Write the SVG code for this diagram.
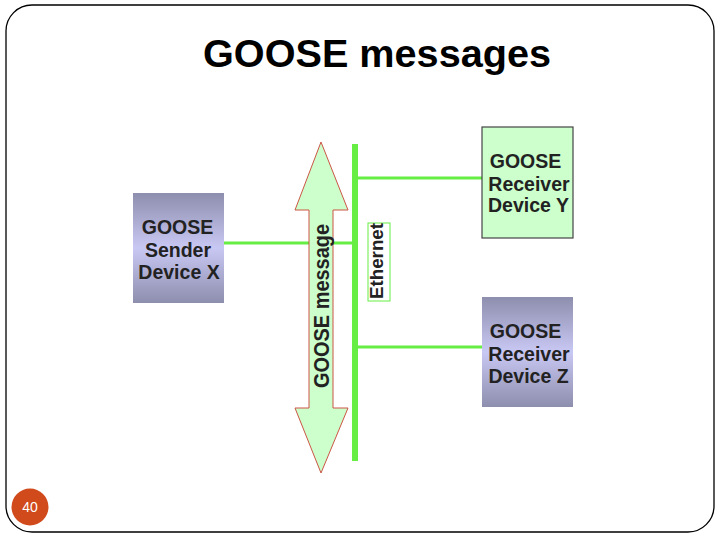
<svg xmlns="http://www.w3.org/2000/svg" width="720" height="540" viewBox="0 0 720 540">
<defs>
<linearGradient id="purp" x1="0" y1="0" x2="0" y2="1">
<stop offset="0" stop-color="#8e8eae"/>
<stop offset="0.5" stop-color="#c8c8f4"/>
<stop offset="1" stop-color="#8e8eae"/>
</linearGradient>
</defs>
<style>
.node text{font-family:"Liberation Sans",Arial,sans-serif;font-weight:bold;font-size:19.5px;fill:#222;text-anchor:middle}
.bus{stroke:#66ee44;fill:none}
</style>
<rect x="6" y="5" width="708" height="527" rx="26" fill="#fff" stroke="#000" stroke-width="1.3"/>
<text x="377" y="67" font-family="Liberation Sans,Arial,sans-serif" font-weight="bold" font-size="39.5" text-anchor="middle" textLength="348" lengthAdjust="spacingAndGlyphs" fill="#000">GOOSE messages</text>
<g id="connectors">
<line class="bus" x1="355" y1="144" x2="355" y2="461" stroke-width="6"/>
<line class="bus" x1="355" y1="178" x2="482" y2="178" stroke-width="3"/>
<line class="bus" x1="355" y1="347" x2="482" y2="347" stroke-width="3"/>
<line class="bus" x1="224" y1="243" x2="355" y2="243" stroke-width="3"/>
</g>
<g id="arrow">
<polygon points="321,142 348,210 333,210 333,408 348,408 321,473 295,408 309,408 309,210 295,210" fill="#ccffcc" stroke="#cc5544" stroke-width="1"/>
<text transform="translate(329,306) rotate(-90)" font-family="Liberation Sans,Arial,sans-serif" font-weight="bold" font-size="21.5" text-anchor="middle" textLength="164" lengthAdjust="spacingAndGlyphs" fill="#222">GOOSE message</text>
</g>
<g id="ethernet">
<rect x="368" y="223" width="22" height="78" fill="#fff" stroke="#66ee44" stroke-width="1"/>
<text transform="translate(383,261) rotate(-90)" font-family="Liberation Sans,Arial,sans-serif" font-weight="bold" font-size="17.5" text-anchor="middle" textLength="76" lengthAdjust="spacingAndGlyphs" fill="#222">Ethernet</text>
</g>
<g id="senderX" class="node">
<rect x="133" y="193" width="91" height="110" fill="url(#purp)"/>
<text x="177.5" y="234">GOOSE</text>
<text x="178" y="256.5">Sender</text>
<text x="179" y="279">Device X</text>
</g>
<g id="receiverY" class="node">
<rect x="482" y="127" width="91" height="111" fill="#ccffcc" stroke="#444" stroke-width="1.2"/>
<text x="525.5" y="168">GOOSE</text>
<text x="529" y="191">Receiver</text>
<text x="528.5" y="212">Device Y</text>
</g>
<g id="receiverZ" class="node">
<rect x="482" y="297" width="91" height="110" fill="url(#purp)"/>
<text x="525.5" y="338">GOOSE</text>
<text x="529" y="361">Receiver</text>
<text x="528.5" y="383">Device Z</text>
</g>
<g id="pagenum">
<circle cx="30" cy="507" r="18.5" fill="#d04a1c"/>
<text x="30" y="512" font-family="Liberation Sans,Arial,sans-serif" font-size="14" text-anchor="middle" fill="#fff">40</text>
</g>
</svg>
